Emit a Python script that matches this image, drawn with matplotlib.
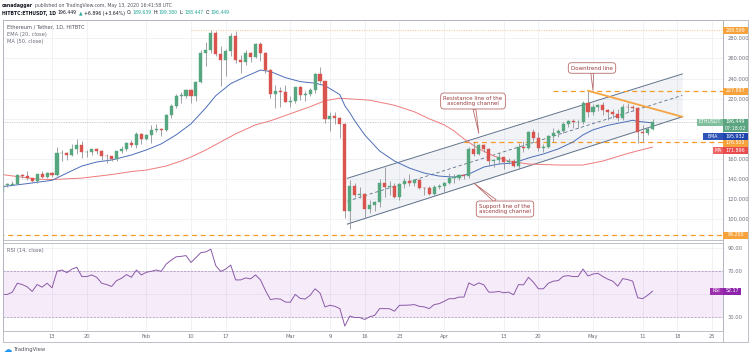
import matplotlib
matplotlib.use('Agg')
import matplotlib.pyplot as plt
import matplotlib.dates as mdates
from matplotlib.patches import Rectangle
import numpy as np
import pandas as pd

# daily candles, HITBTC ETH/USDT, Jan 3 - May 13 2020
dates = pd.date_range('2020-01-03', '2020-05-13', freq='D')
closes = [134.2, 134.3, 135.4, 144.2, 142.8, 140.8, 137.8, 144.8, 142.4, 146.5, 143.6, 165.6, 166.4, 164.2,
          169.9, 174.1, 166.8, 166.9, 169.5, 168.1, 162.8, 162.5, 160.4, 167.9, 170.1, 175.6, 173.7, 184.7, 180.0,
          183.6, 188.4, 189.7, 189.0, 204.2, 212.9, 222.7, 223.1, 228.6, 222.9, 236.7, 265.7, 268.3, 285.2, 264.9,
          258.9, 267.9, 282.6, 258.5, 257.0, 265.3, 261.6, 274.5, 265.5, 248.3, 224.8, 227.3, 226.8, 217.2,
          217.8, 231.5, 223.9, 224.3, 228.4, 244.9, 237.2, 199.4, 202.8, 200.7, 194.6, 108.0, 133.6, 124.1, 125.2,
          110.3, 113.9, 116.8, 136.2, 132.6, 132.7, 122.6, 135.1, 138.6, 136.1, 138.8, 131.2, 131.1, 125.2, 132.3, 133.2,
          135.7, 141.4, 141.5, 144.2, 142.8, 169.9, 164.6, 173.7, 170.4, 158.2, 158.6, 161.5, 157.5, 157.8, 153.2,
          172.2, 171.3, 186.6, 180.5, 171.3, 171.9, 182.7, 185.9, 188.3, 194.9, 197.5, 196.7, 197.0, 215.7, 206.6,
          211.5, 214.2, 209.2, 206.4, 204.7, 200.8, 212.0, 211.7, 210.5, 187.3, 186.0, 189.55, 196.449]
opens = [127.4] + closes[:-1]
opens[-1] = 189.639
highs = [135.0, 136.0, 138.2, 144.9, 145.0, 148.0, 141.5, 145.2, 148.0, 146.8, 146.8, 171.7, 169.0, 166.8,
         174.8, 179.5, 178.0, 169.1, 170.4, 171.2, 168.5, 164.5, 163.2, 168.0, 172.5, 176.5, 179.0, 187.0, 186.0,
         185.0, 194.0, 195.0, 190.5, 205.0, 215.0, 225.0, 226.5, 229.7, 229.5, 238.0, 268.0, 276.0, 288.6, 287.0,
         272.0, 269.0, 285.0, 287.0, 263.0, 268.0, 266.0, 275.0, 276.0, 266.0, 250.0, 234.0, 232.0, 234.0,
         223.0, 232.0, 233.0, 228.0, 231.0, 246.0, 251.5, 238.0, 207.0, 207.0, 202.0, 195.5, 139.0, 136.0, 132.0,
         126.0, 119.0, 118.0, 140.0, 152.0, 138.0, 136.0, 136.0, 141.0, 145.0, 140.0, 140.5, 132.5, 133.0, 134.5, 135.5,
         137.5, 146.0, 145.5, 145.0, 144.8, 172.0, 176.5, 175.0, 174.5, 171.0, 160.0, 166.0, 161.8, 161.0, 160.0,
         176.0, 177.5, 188.0, 190.0, 187.0, 175.0, 184.0, 191.0, 190.0, 196.5, 199.0, 200.0, 199.0, 218.0, 227.9,
         215.0, 215.0, 216.5, 210.0, 209.5, 210.0, 215.0, 216.0, 214.0, 212.0, 194.0, 192.0, 199.38]
lows = [125.9, 132.5, 134.0, 134.9, 140.8, 139.2, 136.7, 136.0, 141.0, 141.0, 142.0, 143.3, 158.0, 159.2,
        162.6, 165.0, 160.6, 161.5, 164.1, 165.0, 159.4, 155.8, 158.3, 158.5, 166.1, 168.0, 172.0, 170.9, 175.0,
        178.5, 176.0, 186.5, 183.0, 187.5, 201.0, 211.0, 216.0, 221.0, 215.5, 218.0, 235.5, 253.0, 265.0, 262.0,
        233.0, 243.0, 262.0, 256.0, 246.0, 254.0, 257.0, 260.0, 258.0, 246.0, 221.0, 211.0, 212.0, 217.0,
        212.0, 216.0, 219.0, 218.0, 223.0, 226.0, 236.0, 196.0, 188.0, 194.5, 181.0, 101.0, 90.0, 122.0, 121.0,
        101.0, 106.0, 108.0, 112.0, 122.0, 124.0, 121.0, 119.0, 131.0, 133.0, 133.0, 130.0, 124.0, 124.5, 124.0, 130.5,
        127.0, 135.0, 136.0, 139.5, 140.0, 141.5, 163.0, 163.5, 166.5, 153.0, 152.0, 155.5, 150.0, 155.0, 152.5,
        150.0, 167.0, 170.0, 178.0, 168.0, 167.0, 170.5, 177.0, 182.0, 186.0, 192.0, 191.0, 191.0, 195.0, 202.0,
        204.0, 208.0, 204.0, 198.5, 201.0, 198.0, 199.0, 207.0, 208.0, 176.0, 176.5, 184.0, 188.447]

# indicator lines
ema_dates = ['2020-01-03', '2020-01-08', '2020-01-13', '2020-01-16', '2020-01-19', '2020-01-22', '2020-01-25',
             '2020-01-29', '2020-02-01', '2020-02-04', '2020-02-07', '2020-02-10', '2020-02-13', '2020-02-15',
             '2020-02-18', '2020-02-21', '2020-02-24', '2020-02-26', '2020-02-29', '2020-03-03', '2020-03-06',
             '2020-03-08', '2020-03-11', '2020-03-12', '2020-03-13', '2020-03-14', '2020-03-16', '2020-03-19',
             '2020-03-22', '2020-03-25', '2020-03-28', '2020-03-31', '2020-04-03', '2020-04-06', '2020-04-09',
             '2020-04-12', '2020-04-15', '2020-04-18', '2020-04-21', '2020-04-24', '2020-04-27', '2020-04-29',
             '2020-05-01', '2020-05-04', '2020-05-07', '2020-05-09', '2020-05-10', '2020-05-13']
ema_vals = [132.5, 135.5, 138.8, 146.0, 153.0, 157.0, 159.0, 164.0, 169.0, 175.0, 184.0, 195.0, 211.0, 223.0,
            235.0, 242.0, 248.5, 247.0, 241.0, 237.0, 235.5, 233.0, 224.0, 213.0, 206.0, 198.0, 184.0, 168.0,
            158.0, 151.0, 146.0, 143.0, 142.0, 145.0, 152.0, 155.0, 156.0, 161.0, 165.0, 170.0, 177.0, 184.0,
            189.0, 193.5, 196.5, 198.5, 197.5, 195.9]
ma_dates = ['2020-01-03', '2020-01-06', '2020-01-10', '2020-01-13', '2020-01-19', '2020-01-25', '2020-01-29',
            '2020-02-01', '2020-02-05', '2020-02-08', '2020-02-10', '2020-02-13', '2020-02-16', '2020-02-19',
            '2020-02-23', '2020-02-26', '2020-03-01', '2020-03-05', '2020-03-08', '2020-03-11', '2020-03-14',
            '2020-03-17', '2020-03-22', '2020-03-26', '2020-03-29', '2020-04-01', '2020-04-03', '2020-04-05',
            '2020-04-08', '2020-04-11', '2020-04-14', '2020-04-18', '2020-04-24', '2020-04-29', '2020-05-03',
            '2020-05-08', '2020-05-13']
ma_vals = [144.5, 142.5, 140.0, 139.5, 141.0, 144.5, 147.5, 149.0, 153.0, 158.0, 162.0, 169.0, 177.0, 185.0,
           194.0, 198.0, 205.0, 212.0, 218.0, 220.5, 219.5, 218.5, 213.5, 207.0, 200.0, 194.0, 188.0, 180.0,
           170.0, 163.0, 158.0, 155.0, 154.0, 154.0, 158.0, 165.5, 171.9]
rsi_vals = [49.4, 49.4, 51.4, 59.1, 58.0, 56.0, 52.0, 58.0, 55.7, 59.1,
            55.2, 69.4, 70.6, 68.3, 71.4, 72.9, 64.9, 64.9, 66.3, 64.3,
            59.1, 58.0, 56.3, 61.4, 63.4, 66.6, 64.3, 70.6, 66.3, 68.6,
            69.5, 70.6, 69.4, 75.7, 79.1, 82.0, 82.4, 83.1, 77.1, 81.4,
            85.7, 86.3, 88.6, 74.3, 69.4, 71.4, 74.9, 62.0, 62.0, 63.7,
            62.9, 66.3, 62.0, 52.9, 44.9, 45.7, 45.4, 42.8, 42.6, 49.4,
            46.0, 45.4, 48.6, 54.3, 50.6, 38.6, 40.0, 39.1, 37.1, 22.0,
            30.6, 29.4, 29.4, 27.7, 30.0, 31.2, 37.1, 37.1, 37.0, 34.9,
            40.0, 40.0, 40.2, 40.6, 39.1, 38.6, 37.1, 40.6, 41.4, 43.4,
            45.7, 45.7, 47.1, 47.1, 59.4, 57.1, 59.4, 57.7, 51.4, 51.4,
            52.0, 50.9, 51.4, 49.1, 58.0, 57.7, 64.3, 60.0, 54.3, 54.3,
            59.1, 60.9, 61.4, 65.1, 65.7, 64.9, 64.9, 71.4, 65.4, 67.1,
            67.7, 64.9, 62.6, 60.9, 56.6, 63.1, 62.3, 60.9, 46.6, 45.7,
            48.6, 52.17]

# drawings
channel_dates = ['2020-03-12 12:00', '2020-05-19 00:00']
channel_upper = [140.8, 244.6]
channel_lower = [95.2, 202.0]
downtrend_dates = ['2020-04-30', '2020-05-19']
downtrend_vals = [227.9, 202.0]
levels = [288.599, 227.897, 176.503, 84.250]
level_starts = ['2020-02-10', '2020-04-23', '2020-04-05', '2019-12-30']
last_price = 196.449

# ticks; the ones under the price tags carry no label
price_ticks = [100, 120, 140, 160, 180, 200, 220, 240, 260, 280]
price_hidden = [180, 200]
rsi_ticks = [30, 50, 70, 90]
rsi_hidden = [50]
tick_dates = ['2020-01-13', '2020-01-20', '2020-02-01', '2020-02-10', '2020-02-17', '2020-03-01', '2020-03-09',
              '2020-03-16', '2020-03-23', '2020-04-01', '2020-04-13', '2020-04-20', '2020-05-01', '2020-05-11',
              '2020-05-18', '2020-05-25']
tick_labels = ['13', '20', 'Feb', '10', '17', 'Mar', '9', '16', '23', 'Apr', '13', '20', 'May', '11', '18', '25']

W, H = 750, 358
UP, DOWN, WICK = '#56a67f', '#d9534f', '#8f939b'
GRID, TXT, ORANGE = '#eef0f4', '#6a6d78', '#f59b2a'


def fx(px):
    return px / W


def fy(py):
    return 1 - py / H


def dnum(s):
    return mdates.date2num(pd.to_datetime(s, format='mixed'))


fig = plt.figure(figsize=(7.5, 3.58), dpi=100)
ax = fig.add_axes([fx(3), fy(240), fx(723) - fx(3), fy(20) - fy(240)])
ax2 = fig.add_axes([fx(3), fy(331), fx(723) - fx(3), fy(243) - fy(331)], sharex=ax)

x = mdates.date2num(dates)
o, h, l, c = map(np.array, (opens, highs, lows, closes))
up = c >= o
cols = np.where(up, UP, DOWN)

x0 = x[0]
for a in (ax, ax2):
    a.set_xlim(x0 + 0.12, x0 + 145.2)
    for s in a.spines.values():
        s.set_color('#b2b5be')
        s.set_linewidth(0.6)
    a.tick_params(length=0, labelsize=3.7, colors=TXT)
    a.yaxis.tick_right()
    a.set_xticks(dnum(tick_dates))
    a.grid(True, color=GRID, lw=0.6)
    a.set_axisbelow(True)

# price pane
ax.set_ylim(79.4, 298.3)
ax.set_yticks(price_ticks)
ax.set_yticklabels(['' if t in price_hidden else '%.3f' % t for t in price_ticks])
ax.tick_params(axis='x', labelbottom=False)
ax.tick_params(axis='y', pad=3)

xc = dnum(channel_dates)
mid = [(u + d) / 2 for u, d in zip(channel_upper, channel_lower)]
ax.fill_between(xc, channel_lower, channel_upper, color='#a8b6cc', alpha=0.16, lw=0, zorder=1)
ax.plot(xc, channel_upper, color='#5f7189', lw=0.7, zorder=2)
ax.plot(xc, channel_lower, color='#5f7189', lw=0.7, zorder=2)
ax.plot(xc, mid, color='#5f7189', lw=0.6, ls=(0, (4, 3)), zorder=2)

xr = x0 + 145.2
for i, (lv, st) in enumerate(zip(levels, level_starts)):
    xs = dnum(st)
    if i == 0:
        ax.plot([xs, xr], [lv, lv], color='#f7c08a', lw=0.7, ls=(0, (1, 1.5)), zorder=2)
    else:
        ax.plot([xs, xr], [lv, lv], color=ORANGE, lw=0.9, ls=(0, (4, 3)), zorder=2)
ax.axhline(last_price, color='#9aa0a8', lw=0.5, ls=(0, (1, 1.5)), zorder=2)

ax.plot(dnum(ma_dates), ma_vals, color='#ef7b7b', lw=0.7, zorder=3)
ax.plot(dnum(ema_dates), ema_vals, color='#4d6fb8', lw=0.7, zorder=3)

ax.vlines(x, l, h, color=WICK, lw=0.6, zorder=4)
ax.bar(x, np.maximum(np.abs(c - o), 0.5), bottom=np.minimum(o, c), width=0.62,
       color=cols, edgecolor=cols, lw=0.3, zorder=5)

ax.plot(dnum(downtrend_dates), downtrend_vals, color='#f5a442', lw=1.3, zorder=6)

# callouts
CB = '#b86a6a'
callouts = [
    ('Downtrend line', '2020-05-01', 228.5, (592, H - 68)),
    ('Resistance line of the\nascending channel', '2020-04-08', 185.5, (473, H - 101)),
    ('Support line of the\nascending channel', '2020-04-07', 136.0, (505, H - 209)),
]
for txt, xa, ya, pos in callouts:
    ax.annotate(txt, xy=(dnum(xa), ya), xytext=pos, textcoords='figure pixels', ha='center', va='center',
                fontsize=4.0, color='#9b3d3d', linespacing=1.1, zorder=10, annotation_clip=False,
                bbox=dict(boxstyle='round,pad=0.5,rounding_size=0.6', fc='white', ec=CB, lw=0.6),
                arrowprops=dict(arrowstyle='wedge,tail_width=0.5', fc='white', ec=CB, lw=0.6,
                                shrinkA=0, shrinkB=0))

ax.text(0.005, 0.98, 'Ethereum / Tether, 1D, HITBTC', transform=ax.transAxes, fontsize=3.7, color='#50535e',
        va='top')
ax.text(0.005, 0.946, 'EMA (20, close)', transform=ax.transAxes, fontsize=3.7, color=TXT, va='top')
ax.text(0.005, 0.914, 'MA (50, close)', transform=ax.transAxes, fontsize=3.7, color=TXT, va='top')

# RSI pane
ax2.set_ylim(17.7, 94)
ax2.set_yticks(rsi_ticks)
ax2.set_yticklabels(['' if t in rsi_hidden else '%.2f' % t for t in rsi_ticks])
ax2.tick_params(axis='y', pad=3)
ax2.tick_params(axis='x', pad=2.5)
ax2.set_xticklabels(tick_labels)
ax2.axhspan(30, 70, color='#b04ad0', alpha=0.11, lw=0)
ax2.axhline(70, color='#a88fb8', lw=0.5, ls=(0, (3, 2)))
ax2.axhline(30, color='#a88fb8', lw=0.5, ls=(0, (3, 2)))
ax2.plot(x, rsi_vals, color='#8a5aa8', lw=0.7)
ax2.text(0.005, 0.94, 'RSI (14, close)', transform=ax2.transAxes, fontsize=3.7, color=TXT, va='top')

# frame and price scale line
fig.add_artist(Rectangle((fx(3), fy(342)), fx(748) - fx(3), fy(20) - fy(342), transform=fig.transFigure,
                         fc='none', ec='#b2b5be', lw=0.6))
fig.add_artist(plt.Line2D([fx(723), fx(723)], [fy(342), fy(20)], transform=fig.transFigure, color='#b2b5be', lw=0.6))


def tag(y, xa, xb, text, fc, tc='white'):
    fig.add_artist(Rectangle((fx(xa), fy(y + 3.5)), fx(xb) - fx(xa), 7 / H, transform=fig.transFigure,
                             fc=fc, ec='none', zorder=5))
    fig.text(fx((xa + xb) / 2), fy(y), text, ha='center', va='center', fontsize=3.4, color=tc, zorder=6)


tag(30, 723, 748, '288.599', '#f7a23a')
tag(91, 723, 748, '227.897', '#f7a23a')
tag(122, 697, 723, 'ETHUSDT', '#7fbf9c')
tag(122, 723, 748, '196.449', '#5aa57f')
tag(129, 723, 748, '07:18:02', '#5aa57f')
tag(136, 703, 723, 'EMA', '#2f54b8')
tag(136, 723, 748, '195.932', '#1f45ad')
tag(143, 723, 748, '176.503', '#f7a23a')
tag(150.7, 713, 723, 'MA', '#ef6363')
tag(150.7, 723, 748, '171.896', '#e84c4c')
tag(235, 723, 748, '84.250', '#f7a23a')
tag(291, 710, 723, 'RSI', '#9b2fae')
tag(291, 723, 741, '52.17', '#8e24aa')

# header, pieces laid out one after another
fig.canvas.draw()
rend = fig.canvas.get_renderer()
header_lines = [
    (5, [('canadagger', 'bold', '#131722'),
         ('published on TradingView.com, May 13, 2020 16:41:58 UTC', 'normal', '#50535e')]),
    (13, [('HITBTC:ETHUSDT, 1D', 'bold', '#131722'), ('196.449', 'normal', '#131722'),
          ('\u25b2', 'normal', '#26a69a'), ('+6.896 (+3.64%)', 'normal', '#131722'),
          ('O:', 'normal', '#131722'), ('189.639', 'normal', '#26a69a'),
          ('H:', 'normal', '#131722'), ('199.380', 'normal', '#26a69a'),
          ('L:', 'normal', '#131722'), ('188.447', 'normal', '#26a69a'),
          ('C:', 'normal', '#131722'), ('196.449', 'normal', '#26a69a')]),
]
for py, pieces in header_lines:
    xp = 2.0
    for t, wt, col in pieces:
        tt = fig.text(fx(xp), fy(py), t, fontsize=3.3, weight=wt, color=col, va='center', ha='left')
        xp += tt.get_window_extent(renderer=rend).width + (0.6 if t.endswith(':') else 1.8)

fig.text(fx(4), fy(350), '\u2601', fontsize=6, color='#2196f3', va='center', ha='left')
fig.text(fx(14), fy(350), 'TradingView', fontsize=3.8, color='#50535e', va='center', ha='left')

fig.savefig('out.png', dpi=100)
